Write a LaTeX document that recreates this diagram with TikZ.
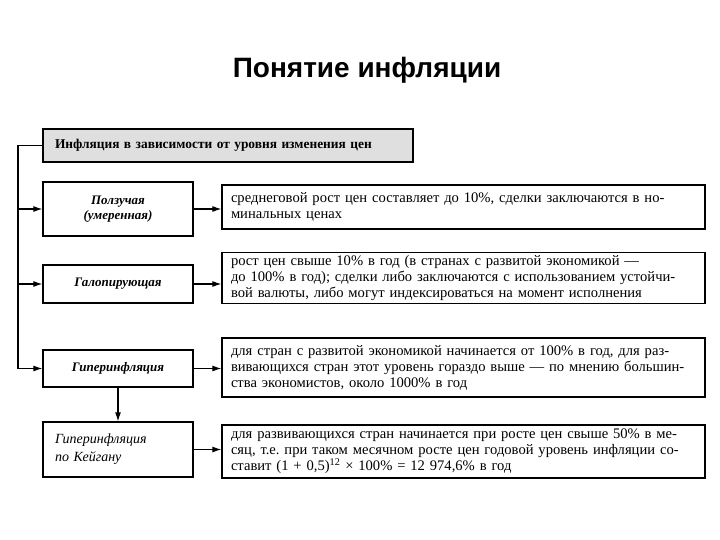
\documentclass[tikz,border=0pt]{standalone}
\usepackage{fontspec}
\setmainfont{Liberation Serif}
\newfontfamily\titlefont{Liberation Sans}
\usetikzlibrary{arrows.meta,positioning}
\tikzset{>={Latex[length=9pt,width=6pt]}}
\frenchspacing

\begin{document}
\begin{tikzpicture}[x=1pt,y=-1pt,
	kind/.style={draw,line width=1.3pt,minimum width=150pt,inner sep=2pt,font=\fontsize{13}{15}\selectfont\bfseries\itshape,align=center},
	desc/.style={draw,line width=1.3pt,text width=465pt,inner xsep=9pt,inner ysep=3pt,font=\fontsize{14.6}{16}\selectfont,align=left},
	head/.style={draw,line width=1.8pt,fill=gray!25,minimum height=33pt,text width=346pt,inner xsep=12pt,font=\fontsize{13.4}{15}\selectfont\bfseries,align=left}]
	\useasboundingbox (0,0) rectangle (720,540);
	\node[anchor=base,font=\titlefont\fontsize{28}{32}\selectfont\bfseries] (title) at (367,78) {Понятие инфляции};
	\node[head] (h) at (228,145.5) {Инфляция в зависимости от уровня изменения цен};
	% types of inflation
	\node[kind,minimum height=54pt] (b1) at (118,209) {Ползучая\\(умеренная)};
	\node[kind,minimum height=38pt] (b2) at (118,284) {Галопирующая};
	\node[kind,minimum height=37pt] (b3) at (118,368.5) {Гиперинфляция};
	\node[kind,minimum height=55pt,text width=126pt,align=left,inner xsep=12pt,font=\fontsize{14}{18}\selectfont\itshape] (b4) at (118,449.5) {Гиперинфляция\\по Кейгану};
	% descriptions
	\node[desc,minimum height=44pt] (d1) at (463.5,207) {среднеговой рост цен составляет до 10\%, сделки заключаются в но-\\минальных ценах};
	\node[desc,minimum height=51pt] (d2) at (463.5,278) {рост цен свыше 10\% в год (в странах с развитой экономикой —\\до 100\% в год); сделки либо заключаются с использованием устойчи-\\вой валюты, либо могут индексироваться на момент исполнения};
	\node[desc,minimum height=59pt] (d3) at (463.5,367.5) {для стран с развитой экономикой начинается от 100\% в год, для раз-\\вивающихся стран этот уровень гораздо выше — по мнению большин-\\ства экономистов, около 1000\% в год};
	\node[desc,minimum height=53pt] (d4) at (463.5,451.5) {для развивающихся стран начинается при росте цен свыше 50\% в ме-\\сяц, т.е. при таком месячном росте цен годовой уровень инфляции со-\\ставит (1 + 0,5)\textsuperscript{12} × 100\% = 12 974,6\% в год};
	% connectors
	\coordinate (spine) at (18,0);
	\draw[->,line width=1.1pt] (h.west) -| (spine |- b3.west) -- (b3.west);
	\draw[->,line width=1.1pt] (spine |- b1.west) -- (b1.west);
	\draw[->,line width=1.1pt] (spine |- b2.west) -- (b2.west);
	\draw[->,line width=1.1pt] (b3.south) -- (b4.north);
	\foreach \i in {1,...,4}
		\draw[->,line width=1.1pt] (b\i.east) -- (b\i.east -| d\i.west);
\end{tikzpicture}
\end{document}
